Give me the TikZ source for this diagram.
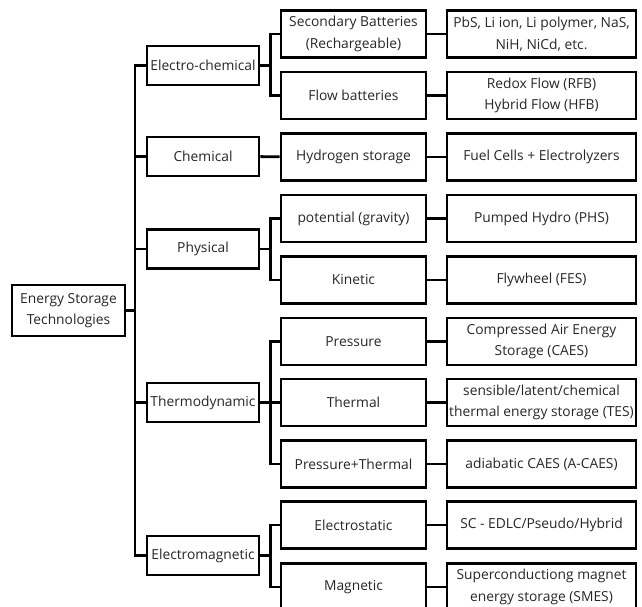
\documentclass[tikz,border=0pt]{standalone}
\usepackage{fontspec}
\setmainfont{Open Sans}
\usepackage{tikz}

\begin{document}
\begin{tikzpicture}
            [x=1pt,y=-1pt,line width=2.9pt,font=\fontsize{13.8}{21.5}\selectfont,
             every node/.style={draw,align=center,inner sep=0pt,text=black!85},
             lvl1/.style={minimum width=112pt,minimum height=39pt},
             lvl2/.style={minimum width=145pt,minimum height=47pt},
             lvl3/.style={minimum width=189pt,minimum height=47pt}]
            \useasboundingbox (0,0) rectangle (642,607);
            \node[minimum width=113pt,minimum height=51pt] (root) at (68.5,310.5) {Energy Storage\\Technologies};
            % first level
            \node[lvl1] (ec) at (203,65.5) {Electro-chemical};
            \node[lvl1] (ch) at (203,156.5) {Chemical};
            \node[lvl1] (ph) at (203,249) {Physical};
            \node[lvl1] (th) at (203,402.5) {Thermodynamic};
            \node[lvl1] (em) at (203,555.5) {Electromagnetic};
            % second level
            \node[lvl2] (sb) at (353.5,34) {Secondary Batteries\\(Rechargeable)};
            \node[lvl2] (fb) at (353.5,95.5) {Flow batteries};
            \node[lvl2] (hs) at (353.5,157) {Hydrogen storage};
            \node[lvl2] (pg) at (353.5,218.5) {potential (gravity)};
            \node[lvl2] (ki) at (353.5,280) {Kinetic};
            \node[lvl2] (pr) at (353.5,341.5) {Pressure};
            \node[lvl2] (tm) at (353.5,402.5) {Thermal};
            \node[lvl2] (pt) at (353.5,464) {Pressure+Thermal};
            \node[lvl2] (es) at (353.5,525) {Electrostatic};
            \node[lvl2] (mg) at (353.5,587) {Magnetic};
            % third level
            \node[lvl3] (sbx) at (541.5,34) {PbS, Li ion, Li polymer, NaS,\\NiH, NiCd, etc.};
            \node[lvl3] (fbx) at (541.5,95.5) {Redox Flow (RFB)\\Hybrid Flow (HFB)};
            \node[lvl3] (hsx) at (541.5,157) {Fuel Cells + Electrolyzers};
            \node[lvl3] (pgx) at (541.5,218.5) {Pumped Hydro (PHS)};
            \node[lvl3] (kix) at (541.5,280) {Flywheel (FES)};
            \node[lvl3] (prx) at (541.5,341.5) {Compressed Air Energy\\Storage (CAES)};
            \node[lvl3] (tmx) at (541.5,402.5) {sensible/latent/chemical\\thermal energy storage (TES)};
            \node[lvl3] (ptx) at (541.5,464) {adiabatic CAES (A-CAES)};
            \node[lvl3] (esx) at (541.5,525) {SC - EDLC/Pseudo/Hybrid};
            \node[lvl3] (mgx) at (541.5,587) {Superconductiong magnet\\energy storage (SMES)};
            % trunk
            \coordinate (trunk) at (135,310.5);
            \draw (root) -- (trunk);
            \draw (trunk) |- (ec);
            \draw (trunk) |- (ch);
            \draw (trunk) |- (ph);
            \draw (trunk) |- (th);
            \draw (trunk) |- (em);
            % branches
            \draw (ec.east) -- ++(10,0) |- (sb.west);
            \draw (ec.east) -- ++(10,0) |- (fb.west);
            \draw (ch) -- (hs);
            \draw (ph.east) -- ++(10,0) |- (pg.west);
            \draw (ph.east) -- ++(10,0) |- (ki.west);
            \draw (th.east) -- ++(10,0) |- (pr.west);
            \draw (th.east) -- ++(10,0) |- (tm.west);
            \draw (th.east) -- ++(10,0) |- (pt.west);
            \draw (em.east) -- ++(10,0) |- (es.west);
            \draw (em.east) -- ++(10,0) |- (mg.west);
            % leaves
            \draw (sb) -- (sbx);
            \draw (fb) -- (fbx);
            \draw (hs) -- (hsx);
            \draw (pg) -- (pgx);
            \draw (ki) -- (kix);
            \draw (pr) -- (prx);
            \draw (tm) -- (tmx);
            \draw (pt) -- (ptx);
            \draw (es) -- (esx);
            \draw (mg) -- (mgx);
        \end{tikzpicture}
\end{document}
